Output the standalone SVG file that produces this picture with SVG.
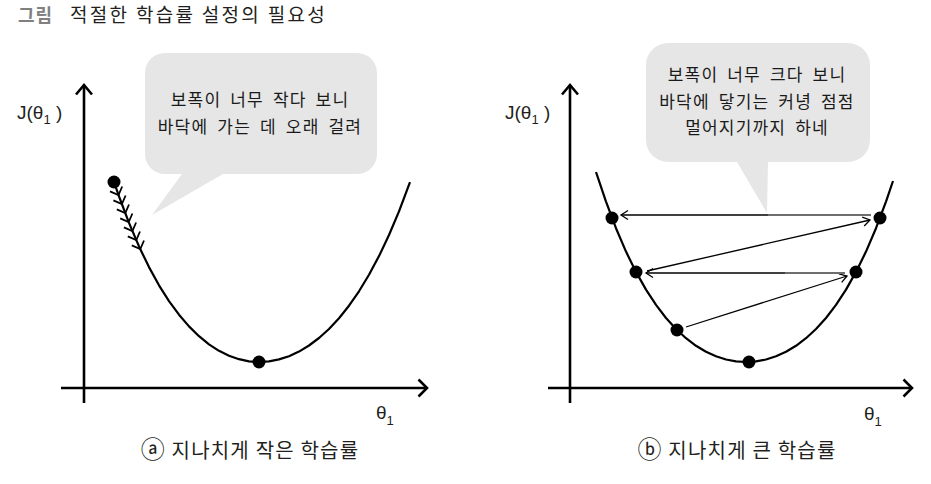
<svg xmlns="http://www.w3.org/2000/svg" width="931" height="484" viewBox="0 0 931 484">
<style>
.kr{font-family:"Noto Sans CJK KR","Noto Sans",sans-serif;}
.lat{font-family:"Liberation Sans",Arial,sans-serif;fill:#231f20;}
.bub{fill:#e6e6e6;stroke:none;}
.btxt{font-family:"Noto Sans CJK KR",sans-serif;font-size:17px;fill:#1a1a1a;text-anchor:middle;letter-spacing:1.2px;word-spacing:4px;}
.axis{fill:none;stroke:#000;stroke-width:2.6;stroke-linecap:butt;}
.ahd{fill:none;stroke:#000;stroke-width:2.6;stroke-linejoin:miter;}
.curve{fill:none;stroke:#000;stroke-width:2.2;stroke-linejoin:round;}
.dot{fill:#000;}
.conn{fill:none;stroke:#000;stroke-width:1.3;}
.hatch{fill:none;stroke:#000;stroke-width:1.8;}
.cap{font-family:"Noto Sans CJK KR",sans-serif;font-size:20px;fill:#231f20;text-anchor:middle;letter-spacing:1.2px;}
.circ{font-size:24px;}
</style>
<defs>
<marker id="ah" markerWidth="10" markerHeight="10" refX="7.5" refY="4.5" orient="auto" markerUnits="userSpaceOnUse" overflow="visible">
<path d="M0.5,0 L7.5,4.5 L0.5,9" fill="none" stroke="#000" stroke-width="1.3"/>
</marker>
</defs>
<rect width="931" height="484" fill="#fff"/>

<g id="title">
<text x="18" y="22" class="kr" font-size="18" font-weight="bold" fill="#808080" letter-spacing="1">그림</text>
<text x="70" y="22" class="kr" font-size="19" fill="#231f20" letter-spacing="2.3">적절한 학습률 설정의 필요성</text>
</g>

<g id="bubble-a">
<path class="bub" d="M165,53 H357 A20,20 0 0 1 377,73 V154 A20,20 0 0 1 357,174 H223 L152,215 L182,174 H165 A20,20 0 0 1 145,154 V73 A20,20 0 0 1 165,53 Z"/>
<text class="btxt" x="260" y="106">보폭이 너무 작다 보니</text>
<text class="btxt" x="260" y="133">바닥에 가는 데 오래 걸려</text>
</g>

<g id="bubble-b">
<path class="bub" d="M668,43 H848 A22,22 0 0 1 870,65 V140 A22,22 0 0 1 848,162 H768 L767,213 L737,162 H668 A22,22 0 0 1 646,140 V65 A22,22 0 0 1 668,43 Z"/>
<text class="btxt" x="757" y="81">보폭이 너무 크다 보니</text>
<text class="btxt" x="757" y="108">바닥에 닿기는 커녕 점점</text>
<text class="btxt" x="757" y="134">멀어지기까지 하네</text>
</g>

<g id="axes-a">
<path class="axis" d="M84,85 V403"/>
<path class="ahd" d="M76,94.5 L84,85 L92,94.5"/>
<path class="axis" d="M61,388 H427"/>
<path class="ahd" d="M418.5,379.5 L427,388 L418.5,396.5"/>
<text class="lat" x="17" y="119" font-size="19">J(θ<tspan font-size="13" dy="5">1</tspan><tspan dy="-5"> )</tspan></text>
<text class="lat" x="376" y="419" font-size="19">θ<tspan font-size="13" dy="6">1</tspan></text>
</g>

<g id="curve-a">
<path class="curve" d="M114,182 L119,196.4 L129,222.9 L139,246.4 L149,267.1 L159,285.3 L169,301.1 L179,314.7 L189,326.4 L199,336.2 L209,344.3 L219,350.8 L229,355.8 L239,359.2 L249,361.3 L259,362 L269,361.4 L279,359.4 L289,356.2 L299,351.6 L309,345.5 L319,338 L329,329 L339,318.2 L349,305.7 L359,291.3 L369,274.8 L379,256.1 L389,235 L399,211.4 L410,182.1"/>
<path class="hatch" d="M110,191.3 L118.5,195 L122.2,186.5 M113.4,200.3 L121.9,204 L125.6,195.5 M116.8,209.3 L125.3,213 L129,204.5 M120.2,218.3 L128.7,222 L132.4,213.5 M123.9,227.3 L132.4,231 L136.1,222.5 M127.8,236.3 L136.3,240 L140,231.5 M131.8,245.3 L140.3,249 L144,240.5"/>
<circle class="dot" cx="114" cy="182" r="6.5"/>
<circle class="dot" cx="259" cy="362" r="6.5"/>
</g>

<g id="axes-b">
<path class="axis" d="M570,85 V403"/>
<path class="ahd" d="M562,94.5 L570,85 L578,94.5"/>
<path class="axis" d="M548,388 H912"/>
<path class="ahd" d="M903.5,379.5 L912,388 L903.5,396.5"/>
<text class="lat" x="505" y="119" font-size="19">J(θ<tspan font-size="13" dy="5">1</tspan><tspan dy="-5"> )</tspan></text>
<text class="lat" x="864" y="420" font-size="19">θ<tspan font-size="13" dy="6">1</tspan></text>
</g>

<g id="curve-b">
<path class="curve" d="M596,172 L599,180.9 L606,201.6 L616,228.2 L626,251.6 L636,271.9 L646,289.6 L656,304.9 L666,318 L676,329 L686,338.2 L696,345.8 L706,351.8 L716,356.3 L726,359.5 L736,361.4 L746,362 L756,361.4 L766,359.5 L776,356.3 L786,351.8 L796,345.8 L806,338.2 L816,329 L826,318 L836,304.9 L846,289.6 L856,271.9 L866,251.6 L876,228.2 L886,201.6 L893,181"/>
<circle class="dot" cx="612" cy="218" r="6.5"/>
<circle class="dot" cx="880" cy="218" r="6.5"/>
<circle class="dot" cx="636" cy="272" r="6.5"/>
<circle class="dot" cx="856" cy="272" r="6.5"/>
<circle class="dot" cx="677" cy="330" r="6.5"/>
<circle class="dot" cx="749" cy="362" r="6.5"/>
</g>

<g id="connectors">
<path class="conn" d="M686,327 L847,276" marker-end="url(#ah)"/>
<path class="conn" d="M845,273 L646,273" marker-end="url(#ah)"/>
<path class="conn" d="M647,271 L870,220" marker-end="url(#ah)"/>
<path class="conn" d="M871,215 L621,215" marker-end="url(#ah)"/>
<path d="M785,273 H845 M768,215 H871" fill="none" stroke="#6e6e6e" stroke-width="1.8"/>
</g>

<g id="captions">
<text class="cap" x="250" y="458"><tspan class="circ">ⓐ</tspan> 지나치게 작은 학습률</text>
<text class="cap" x="737" y="458"><tspan class="circ">ⓑ</tspan> 지나치게 큰 학습률</text>
</g>
</svg>
